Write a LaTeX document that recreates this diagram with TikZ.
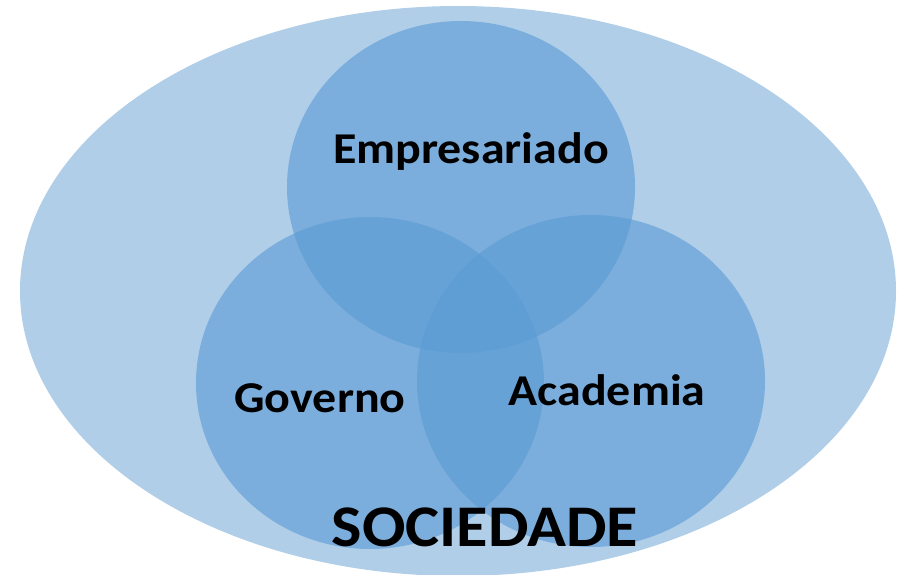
\documentclass[tikz,border=0pt]{standalone}
\usepackage{fontspec}
\setmainfont{Carlito}
\newfontfamily\labelfont[FakeStretch=1.09]{Carlito}
\definecolor{society}{HTML}{B0CEE8}
\definecolor{sector}{HTML}{5B9BD5}
\begin{document}
\begin{tikzpicture}[x=1pt,y=-1pt,
  bigset/.style={fill=society,draw=none},
  setcircle/.style={fill=sector,fill opacity=0.62,draw=none},
  setlabel/.style={font=\labelfont\fontsize{44}{44}\selectfont\bfseries,text=black,inner sep=0pt,anchor=base},
  titlelabel/.style={font=\labelfont\fontsize{59}{59}\selectfont\bfseries,text=black,inner sep=0pt,anchor=base}]
\useasboundingbox (0,0) rectangle (897,575);
\fill[bigset] (458,291) ellipse [x radius=438, y radius=285];
\fill[setcircle] (461,187) ellipse [x radius=174, y radius=166];
\fill[setcircle] (370,383) ellipse [x radius=174, y radius=166];
\fill[setcircle] (591,381) ellipse [x radius=174, y radius=166];
\node[setlabel] (emp) at (471,164) {Empresariado};
\node[setlabel] (gov) at (320,412) {Governo};
\node[setlabel] (aca) at (607,405) {Academia};
\node[titlelabel] (soc) at (485,546) {SOCIEDADE};
\end{tikzpicture}
\end{document}
